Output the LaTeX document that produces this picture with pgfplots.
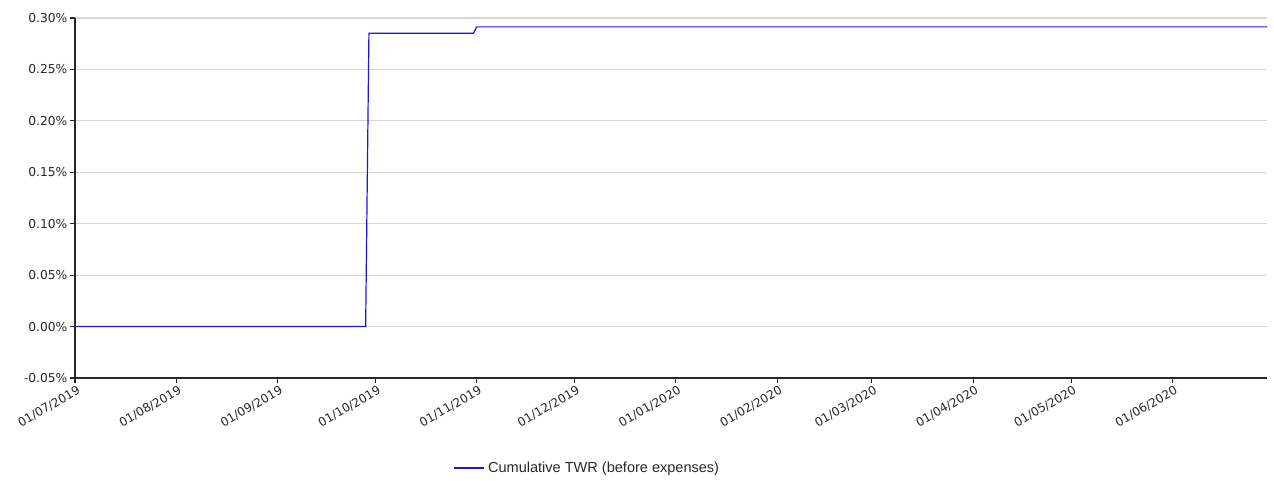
\documentclass[border=0pt]{standalone}
\usepackage{pgfplots}
\pgfplotsset{compat=1.18}
\usepackage{fontspec}
\setmainfont{DejaVu Sans}
\newfontfamily\legfont{Liberation Sans}
\definecolor{tickgray}{RGB}{40,40,40}
\definecolor{gridgray}{RGB}{215,215,215}
\begin{document}
\begin{tikzpicture}
\path[use as bounding box] (-56.25pt,-76.5pt) rectangle (899.25pt,283.5pt);
\begin{axis}[
  at={(0pt,0pt)}, anchor=south west,
  scale only axis, width=894pt, height=270pt,
  xmin=0, xmax=365, ymin=-0.05, ymax=0.30,
  axis x line*=bottom, axis y line*=left,
  axis line style={tickgray, line width=0.8pt},
  tick align=outside, major tick length=4pt,
  tick style={tickgray, line width=0.8pt},
  xtick={0,31,62,92,123,153,184,215,244,275,305,336},
  xticklabels={01/07/2019,01/08/2019,01/09/2019,01/10/2019,01/11/2019,01/12/2019,01/01/2020,01/02/2020,01/03/2020,01/04/2020,01/05/2020,01/06/2020},
  x tick label style={rotate=30, anchor=north east, font=\fontsize{9}{10}\selectfont, text=tickgray, inner sep=1.5pt, xshift=2pt},
  ytick={-0.05,0,0.05,0.10,0.15,0.20,0.25,0.30},
  yticklabels={-0.05\%,0.00\%,0.05\%,0.10\%,0.15\%,0.20\%,0.25\%,0.30\%},
  y tick label style={font=\fontsize{9.2}{10}\selectfont, text=tickgray, inner sep=1.5pt},
  ymajorgrids, grid style={gridgray, line width=0.8pt},
  legend style={at={(0.43,-0.25)}, anchor=center, draw=none, fill=none, font=\legfont\fontsize{10.9}{12}\selectfont, text=tickgray},
  legend image code/.code={\draw[#1, line width=1.6pt] (0pt,0pt) -- (22.5pt,0pt);},
  legend cell align=left,
  clip=false,
]
\addplot[color={rgb,255:red,20;green,20;blue,255}, line width=0.9pt] coordinates {
(0,0) (89,0) (90,0.2851) (122,0.2851) (123,0.2914) (365,0.2914)
};
\addlegendentry{Cumulative TWR (before expenses)}
\end{axis}
\end{tikzpicture}
\end{document}
